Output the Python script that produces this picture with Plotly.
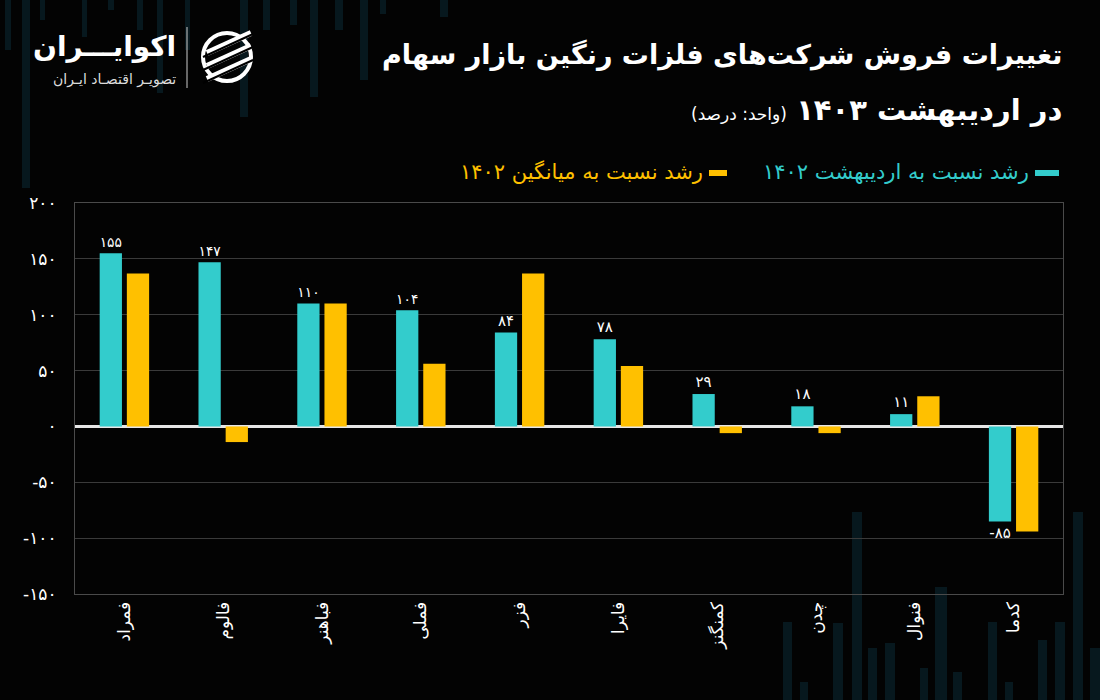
import plotly.graph_objects as go

# ---------------- data ----------------
categories = ["فمراد", "فالوم", "فباهنر", "فملی", "فزر", "فایرا", "کمنگنز", "چدن", "فنوال", "کدما"]
growth_vs_ordibehesht_1402 = [155, 147, 110, 104, 84, 78, 29, 18, 11, -85]
growth_vs_avg_1402 = [137, -14, 110, 56, 137, 54, -6, -6, 27, -94]
y_tick_values = [-150, -100, -50, 0, 50, 100, 150, 200]

series_names = ["رشد نسبت به اردیبهشت ۱۴۰۲", "رشد نسبت به میانگین ۱۴۰۲"]
title_line1 = "تغییرات فروش شرکت‌های فلزات رنگین بازار سهام"
title_line2 = "در اردیبهشت ۱۴۰۳"
unit_text = "(واحد: درصد)"
brand = "اکوایـــران"
brand_sub = "تصویـر اقتصـاد ایـران"

TEAL = "#33CCCC"
ORANGE = "#FFC000"
FONT = "DejaVu Sans"

FA_DIGITS = str.maketrans("0123456789", "۰۱۲۳۴۵۶۷۸۹")


def fa(n):
    return str(n).translate(FA_DIGITS)


W, H = 1100, 700
ML, MR, MT, MB = 75, 37, 203, 106
PW, PH = W - ML - MR, H - MT - MB


def px_x(p):
    return (p - ML) / PW


def px_y(p):
    return (H - MB - p) / PH


fig = go.Figure()
fig.add_trace(go.Bar(
    x=categories, y=growth_vs_ordibehesht_1402, name=series_names[0],
    marker=dict(color=TEAL, line=dict(width=0)),
    text=[fa(v) for v in growth_vs_ordibehesht_1402],
    textposition="outside", cliponaxis=False,
    textfont=dict(color="white", size=15, family=FONT),
))
fig.add_trace(go.Bar(
    x=categories, y=growth_vs_avg_1402, name=series_names[1],
    marker=dict(color=ORANGE, line=dict(width=0)),
))

DECO = "#07181e"
shapes = []
# decorative faint background bars (top-left and bottom-right)
deco_top = [(5, 11, 50), (22, 30, 188), (40, 45, 20), (82, 87, 37), (108, 114, 10),
            (137, 143, 30), (157, 163, 93), (185, 190, 50), (240, 248, 117),
            (263, 270, 30), (290, 297, 25), (310, 318, 97), (335, 343, 30),
            (360, 368, 80), (380, 386, 14), (440, 448, 17)]
for x0, x1, yb in deco_top:
    shapes.append(dict(type="rect", xref="paper", yref="paper", layer="below",
                       x0=px_x(x0), x1=px_x(x1), y0=px_y(yb), y1=px_y(0),
                       fillcolor=DECO, line=dict(width=0)))
deco_bottom = [(783, 792, 622), (800, 808, 682), (833, 843, 623), (852, 862, 512),
               (868, 877, 648), (885, 895, 643), (920, 928, 668), (935, 947, 587),
               (953, 962, 672), (988, 997, 622), (1005, 1013, 682), (1038, 1047, 640),
               (1055, 1065, 622), (1073, 1083, 512), (1090, 1100, 648)]
for x0, x1, yt in deco_bottom:
    shapes.append(dict(type="rect", xref="paper", yref="paper", layer="below",
                       x0=px_x(x0), x1=px_x(x1), y0=px_y(700), y1=px_y(yt),
                       fillcolor=DECO, line=dict(width=0)))

# legend dashes
shapes.append(dict(type="line", xref="paper", yref="paper",
                   x0=px_x(1035), x1=px_x(1059), y0=px_y(173), y1=px_y(173),
                   line=dict(color=TEAL, width=6)))
shapes.append(dict(type="line", xref="paper", yref="paper",
                   x0=px_x(709), x1=px_x(727), y0=px_y(173), y1=px_y(173),
                   line=dict(color=ORANGE, width=6)))

# logo separator
shapes.append(dict(type="line", xref="paper", yref="paper",
                   x0=px_x(187), x1=px_x(187), y0=px_y(27), y1=px_y(88),
                   line=dict(color="#cccccc", width=1)))
# logo icon (circle with slanted stripes)
cx, cy, r = 227, 57, 24
shapes.append(dict(type="circle", xref="paper", yref="paper",
                   x0=px_x(cx - r), x1=px_x(cx + r), y0=px_y(cy + r), y1=px_y(cy - r),
                   line=dict(color="white", width=4)))
for dy in (-13, 0, 13):
    shapes.append(dict(type="line", xref="paper", yref="paper",
                       x0=px_x(cx - 20), x1=px_x(cx + 24),
                       y0=px_y(cy + dy + 9), y1=px_y(cy + dy - 11),
                       line=dict(color="white", width=6)))
    shapes.append(dict(type="line", xref="paper", yref="paper",
                       x0=px_x(cx - 24), x1=px_x(cx + 26),
                       y0=px_y(cy + dy + 13), y1=px_y(cy + dy - 10),
                       line=dict(color="black", width=2)))

annotations = [
    dict(text=f"<b>{title_line1}</b>", xref="paper", yref="paper",
         x=px_x(1064), y=px_y(55), xanchor="right", yanchor="middle", showarrow=False,
         font=dict(color="white", size=27, family=FONT)),
    dict(text=f"<b>{title_line2}</b> <span style='font-size:17px'>{unit_text}</span>",
         xref="paper", yref="paper",
         x=px_x(1064), y=px_y(110), xanchor="right", yanchor="middle", showarrow=False,
         font=dict(color="white", size=29, family=FONT)),
    dict(text=series_names[0], xref="paper", yref="paper",
         x=px_x(1031), y=px_y(172), xanchor="right", yanchor="middle", showarrow=False,
         font=dict(color=TEAL, size=21, family=FONT)),
    dict(text=series_names[1], xref="paper", yref="paper",
         x=px_x(705), y=px_y(172), xanchor="right", yanchor="middle", showarrow=False,
         font=dict(color=ORANGE, size=21, family=FONT)),
    dict(text=f"<b>{brand}</b>", xref="paper", yref="paper",
         x=px_x(178), y=px_y(46), xanchor="right", yanchor="middle", showarrow=False,
         font=dict(color="white", size=28, family=FONT)),
    dict(text=brand_sub, xref="paper", yref="paper",
         x=px_x(178), y=px_y(79), xanchor="right", yanchor="middle", showarrow=False,
         font=dict(color="#dddddd", size=14, family=FONT)),
]

fig.update_layout(
    width=W, height=H,
    margin=dict(l=ML, r=MR, t=MT, b=MB, autoexpand=False),
    paper_bgcolor="#030303", plot_bgcolor="rgba(0,0,0,0)",
    barmode="group", bargap=0.45, bargroupgap=0.18,
    showlegend=False,
    font=dict(family=FONT, color="white"),
    shapes=shapes, annotations=annotations,
    xaxis=dict(
        tickangle=-90, tickfont=dict(size=17, color="white", family=FONT),
        showline=True, linecolor="#4a4a4a", linewidth=1, mirror=True,
        showgrid=False, ticks="", ticklen=0,
    ),
    yaxis=dict(
        range=[-150, 200], tickvals=y_tick_values,
        ticktext=[fa(v) for v in y_tick_values],
        tickfont=dict(size=17, color="white", family=FONT),
        showgrid=True, gridcolor="#3a3a3a", gridwidth=1,
        zeroline=True, zerolinecolor="#e6e6e6", zerolinewidth=2.5,
        showline=True, linecolor="#4a4a4a", linewidth=1, mirror=True,
        ticks="", ticklabelstandoff=14,
    ),
)

fig.write_html(
    "out.html",
    config={"displayModeBar": False},
    post_script="document.body.style.margin='0';document.body.style.background='#030303';",
)
